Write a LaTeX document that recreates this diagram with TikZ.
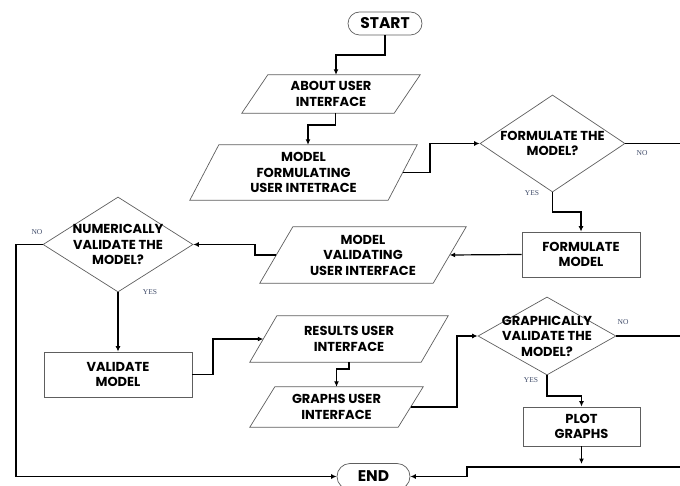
\documentclass[tikz,border=0pt]{standalone}
\usepackage{fontspec}
\setmainfont{Liberation Serif}
\newfontfamily\popf{Poppins}
\usetikzlibrary{shapes.geometric,shapes.misc,arrows.meta}
\definecolor{lblc}{HTML}{3E4A68}
\definecolor{edgec}{HTML}{5E5E5E}
% #1 name, #2 cx, #3 cy, #4 overall width, #5 height, #6 slant, #7 text
\newcommand{\pshape}[7]{%
  \node[txt, minimum width=#4-#6, minimum height=#5] (#1) at (#2,#3) {#7};
  \draw[shp] ([xshift=#6/2]#1.north west) -- ([xshift=#6/2]#1.north east)
     -- ([xshift=-#6/2]#1.south east) -- ([xshift=-#6/2]#1.south west) -- cycle;
}
\begin{document}
\begin{tikzpicture}[x=1pt,y=-1pt,
  shp/.style={draw=edgec, line width=0.7pt, inner sep=0pt},
  txt/.style={font=\popf\bfseries\fontsize{13}{15.5}\selectfont, align=center, inner sep=0pt},
  bigtxt/.style={font=\popf\bfseries\fontsize{15.5}{17}\selectfont, inner sep=0pt},
  diam/.style={shp, diamond},
  boxx/.style={shp, rectangle},
  term/.style={shp, rounded rectangle},
  arr/.style={line width=1.2pt, -{Latex[length=5.5pt,width=5pt]}},
  conn/.style={line width=1.2pt},
  lbl/.style={font=\fontsize{7.5}{8}\selectfont, text=lblc, inner sep=0pt}
]
\useasboundingbox (0,0) rectangle (680,486);
\clip (0,0) rectangle (680,486);

% nodes
\node[term, minimum width=74, minimum height=23, label={[bigtxt]center:START}] (start) at (385,23.5) {};
\pshape{about}{331}{94}{178}{38}{26}{ABOUT USER\\INTERFACE}
\pshape{mf}{303.5}{172.5}{227}{55}{29}{MODEL\\FORMULATING\\USER INTETRACE}
\node[diam, minimum width=145, minimum height=97, label={[txt]center:{FORMULATE THE\\MODEL?}}] (fq) at (552.5,143.5) {};
\node[boxx, minimum width=118, minimum height=45, label={[txt]center:{FORMULATE\\MODEL}}] (fm) at (581,254.5) {};
\pshape{mv}{363}{255}{206}{56}{33}{MODEL\\VALIDATING\\USER INTERFACE}
\node[diam, minimum width=150, minimum height=95, label={[txt]center:{NUMERICALLY\\VALIDATE THE\\MODEL?}}] (nq) at (118,244.5) {};
\node[boxx, minimum width=148, minimum height=45, label={[txt]center:{VALIDATE\\MODEL}}] (vm) at (118,374.5) {};
\pshape{res}{349}{339}{198}{46}{27}{RESULTS USER\\INTERFACE}
\pshape{gr}{336.5}{407}{173}{40}{25}{GRAPHS USER\\INTERFACE}
\node[diam, minimum width=138, minimum height=78, label={[txt]center:{GRAPHICALLY\\VALIDATE THE\\MODEL?}}] (gq) at (547,336) {};
\node[boxx, minimum width=117, minimum height=39, label={[txt]center:{PLOT\\GRAPHS}}] (pg) at (581.5,426.5) {};
\node[term, minimum width=73, minimum height=26, label={[bigtxt]center:END}] (end) at (373.5,476.5) {};

% labels
\node[lbl] (l1) at (642,153) {NO};
\node[lbl] (l2) at (532,193) {YES};
\node[lbl] (l3) at (37,232) {NO};
\node[lbl] (l4) at (150,292) {YES};
\node[lbl] (l5) at (623,322) {NO};
\node[lbl] (l6) at (531,380) {YES};

% connectors
\coordinate (rim1) at (680,143.5);
\coordinate (rim2) at (680,336);
\coordinate (rim3) at (680,467);
\draw[arr] (start.south) -- (385,55) -| ([xshift=5pt]about.north);
\draw[arr] ([xshift=4.5pt]about.south) -- (335.5,125) -| ([xshift=4.5pt]mf.north);
\draw[arr] (mf.east) -- (430,172.5) |- (fq.west);
\draw[conn] (fq.east) -- (rim1);
\draw[arr] (fq.south) -- (552.5,212) -| (fm.north);
\draw[arr] (fm.west) -- (mv.east);
\draw[arr] (mv.west) -- (255,255) |- (nq.east);
\draw[arr] (nq.west) -- (16,244.5) |- (end.west);
\draw[arr] (nq.south) -- (vm.north);
\draw[arr] (vm.east) -- (213,374.5) |- (res.west);
\draw[arr] (res.south) -- (349,369) -| (gr.north);
\draw[arr] (gr.east) -- (457,407) |- (gq.west);
\draw[conn] (gq.east) -- (rim2);
\draw[arr] (gq.south) -- (547,396) -| (pg.north);
\draw[arr] (pg.south) -- (581.5,464);
\draw[arr] (rim3) -- (467,467) |- (end.east);
\end{tikzpicture}
\end{document}
